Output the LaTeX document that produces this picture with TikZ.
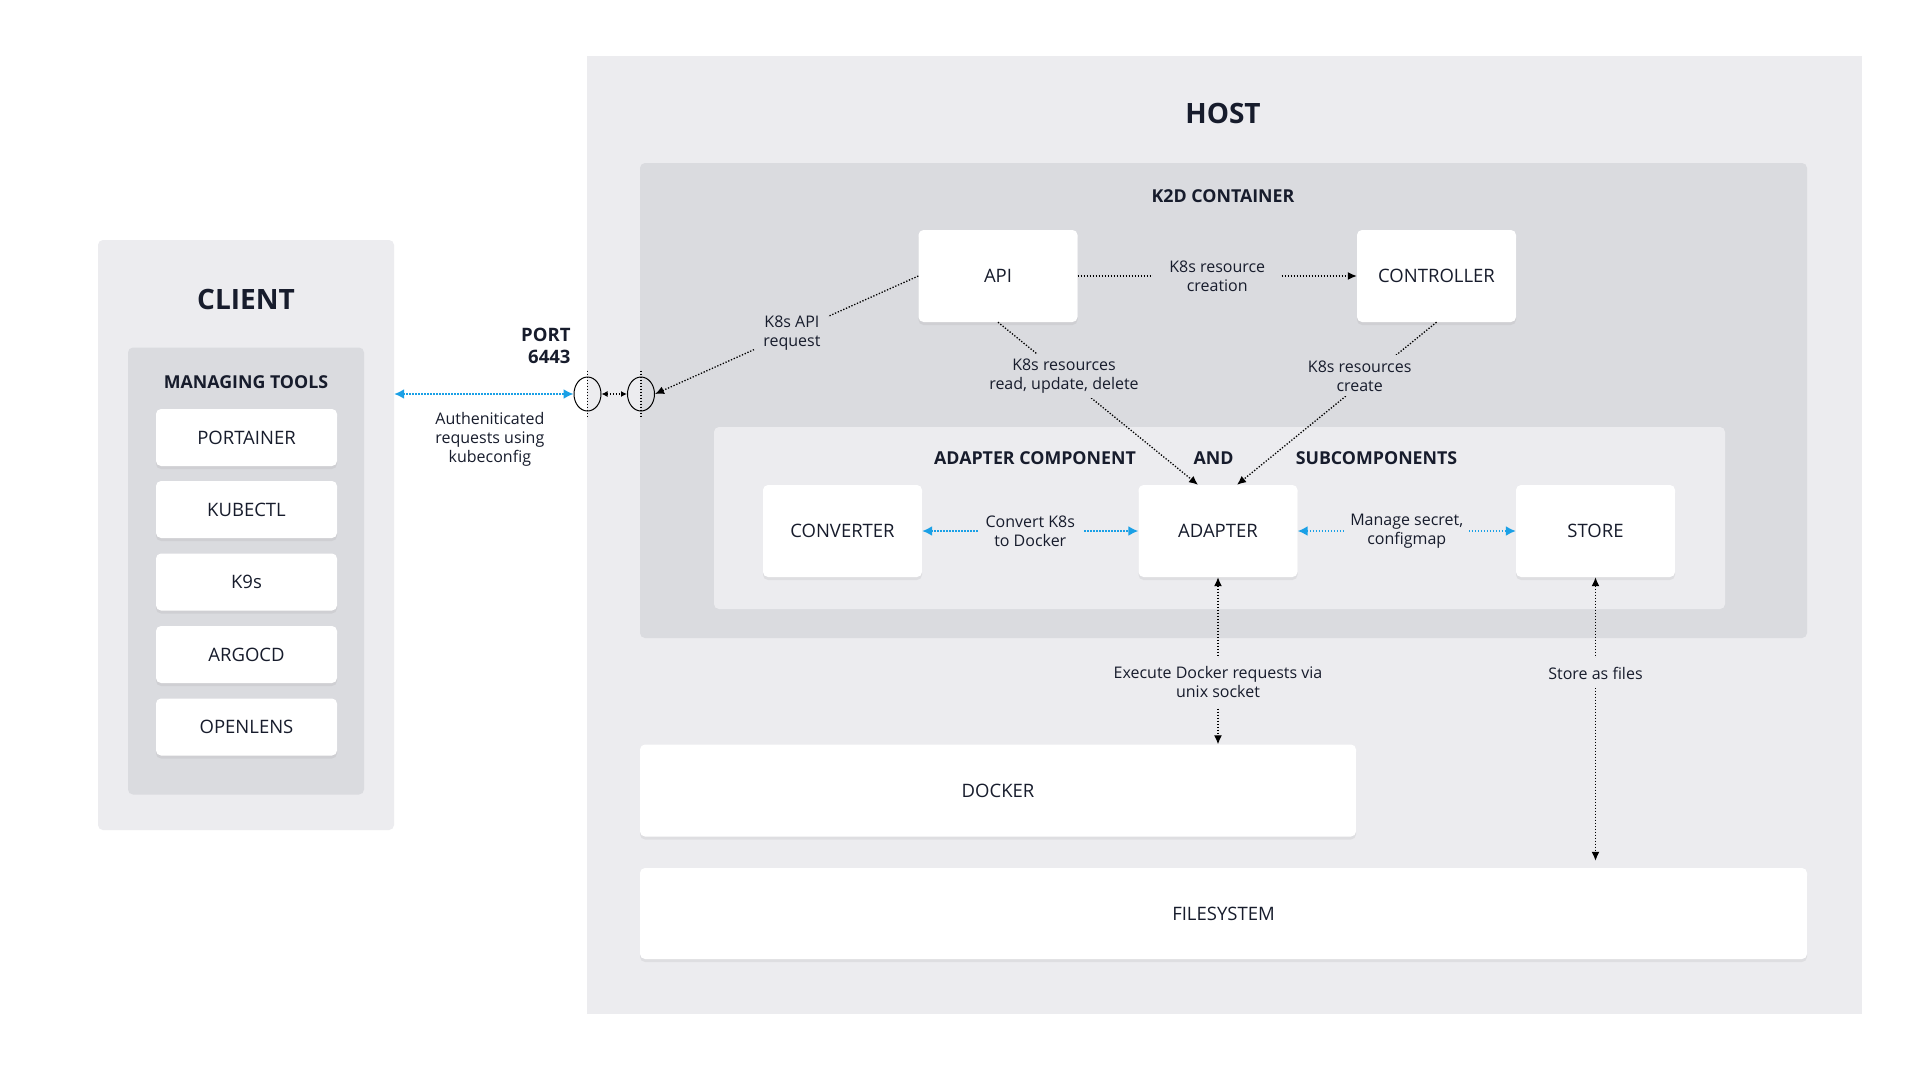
\documentclass[tikz,border=0pt]{standalone}
\usepackage{fontspec}
\setmainfont{Open Sans}
\usepackage{tikz}
\usetikzlibrary{shapes.geometric,arrows.meta,shadows}

\definecolor{hostgray}{HTML}{ECECEF}
\definecolor{boxgray}{HTML}{DADBDF}
\definecolor{ink}{HTML}{171C2C}
\definecolor{reqblue}{HTML}{1AA0E6}

\tikzset{
	zone/.style={rounded corners=5pt,inner sep=0pt},
	card/.style={fill=white,rounded corners=5pt,text=ink,inner sep=0pt,
		font=\fontsize{18.5}{22}\selectfont,minimum width=159pt,minimum height=92pt,
		drop shadow={shadow xshift=0pt,shadow yshift=-3pt,opacity=0.12}},
	bigtitle/.style={text=ink,font=\bfseries\fontsize{28}{32}\selectfont},
	heading/.style={text=ink,font=\bfseries\fontsize{17.8}{21}\selectfont},
	note/.style={text=ink,font=\fontsize{16}{19}\selectfont,align=center,inner xsep=8pt,inner ysep=5pt},
	dotline/.style={line width=1.3pt,dash pattern=on 1.3pt off 1.7pt},
	reqline/.style={dotline,reqblue,line width=1.8pt,>={Latex[length=10pt,width=10pt]}},
	portring/.style={ellipse,draw=black,line width=1pt,minimum width=27pt,minimum height=34pt,inner sep=0pt},
}

\begin{document}
\begin{tikzpicture}[x=1pt,y=-1pt,>={Latex[length=9pt,width=8pt]}]
	\fill[white] (0,0) rectangle (1920,1080);
	\useasboundingbox (0,0) rectangle (1920,1080);
	%
	% client side
	%
	\node [zone,fill=hostgray,minimum width=296pt,minimum height=590pt] (client) at (246,535) {};
	\node [bigtitle] (clienttitle) at (246,299) {CLIENT};
	\node [zone,fill=boxgray,minimum width=236pt,minimum height=447pt] (tools) at (246,571) {};
	\node [heading] (toolstitle) at (246,382) {MANAGING TOOLS};
	\node [card,minimum width=181pt,minimum height=57pt] (portainer) at (246.5,437.5) {PORTAINER};
	\node [card,minimum width=181pt,minimum height=57pt] (kubectl) at (246.5,509.5) {KUBECTL};
	\node [card,minimum width=181pt,minimum height=57pt] (k9s) at (246.5,582) {K9s};
	\node [card,minimum width=181pt,minimum height=57pt] (argocd) at (246.5,654.5) {ARGOCD};
	\node [card,minimum width=181pt,minimum height=57pt] (openlens) at (246.5,727) {OPENLENS};
	%
	% host side
	%
	\node [zone,fill=hostgray,minimum width=1275pt,minimum height=958pt,rounded corners=0pt] (host) at (1224,535) {};
	\node [bigtitle] (hosttitle) at (1223,113) {HOST};
	\node [zone,fill=boxgray,minimum width=1167pt,minimum height=475pt] (k2d) at (1223.5,400.5) {};
	\node [heading] (k2dtitle) at (1223,196) {K2D CONTAINER};
	\node [card] (api) at (998,276) {API};
	\node [card] (controller) at (1436.5,276) {CONTROLLER};
	\node [zone,fill=hostgray,minimum width=1011pt,minimum height=182pt] (adaptzone) at (1219.5,518) {};
	\node [heading] (adapttitle) at (1035,458) {ADAPTER COMPONENT};
	\node [heading] (andtitle) at (1213.5,458) {AND};
	\node [heading] (subtitle) at (1376.5,458) {SUBCOMPONENTS};
	\node [card] (converter) at (842.5,531) {CONVERTER};
	\node [card] (adapter) at (1218,531) {ADAPTER};
	\node [card] (store) at (1595.5,531) {STORE};
	\node [card,minimum width=716pt] (docker) at (998,790.5) {DOCKER};
	\node [card,minimum width=1167pt,minimum height=91pt] (filesystem) at (1223.5,913.5) {FILESYSTEM};
	%
	% port
	%
	\node [portring] (port1) at (587.5,394) {};
	\node [portring] (port2) at (641,394) {};
	\node [heading,font=\bfseries\fontsize{18.5}{22}\selectfont,align=right,anchor=east] (portlabel) at (574,345.5) {PORT\\6443};
	\draw [dotline] ([yshift=6pt]port1.north) -- ([yshift=-6pt]port1.south);
	\draw [dotline] ([yshift=6pt]port2.north) -- ([yshift=-6pt]port2.south);
	%
	%
	%
	\draw [reqline,<->] (client.east |- port1) -- node[note,below=17pt,xshift=6pt,inner ysep=0pt] {Autheniticated\\requests using\\kubeconfig} (port1.west);
	\draw [dotline,<->,>={Latex[length=6pt,width=6pt]}] (port1) -- (port2);
	\draw [dotline,->] (api.west) -- node[note,fill=boxgray,pos=0.48] {K8s API\\request} (port2.east);
	\draw [dotline,->] (api) -- node[note,fill=boxgray,inner xsep=16pt] {K8s resource\\creation} (controller);
	\draw [dotline,->] (api.south) -- node[note,fill=boxgray,pos=0.33] {K8s resources\\read, update, delete} ([xshift=-20pt]adapter.north);
	\draw [dotline,->] (controller.south) -- node[note,fill=boxgray,pos=0.33,xshift=-11pt] {K8s resources\\create} ([xshift=19pt]adapter.north);
	\draw [reqline,<->] (converter) -- node[note,fill=hostgray] {Convert K8s\\to Docker} (adapter);
	\draw [reqline,<->] (adapter) -- node[note,fill=hostgray,inner xsep=6pt] {Manage secret,\\configmap} (store);
	\draw [dotline,<->] (adapter.south) -- node[note,fill=hostgray,pos=0.63,inner ysep=9pt] {Execute Docker requests via\\unix socket} (adapter.south |- docker.north);
	\draw [dotline,<->,shorten >=7pt] (store.south) -- node[note,fill=hostgray,pos=0.33,inner ysep=9pt] {Store as files} (store.south |- filesystem.north);
\end{tikzpicture}
\end{document}
